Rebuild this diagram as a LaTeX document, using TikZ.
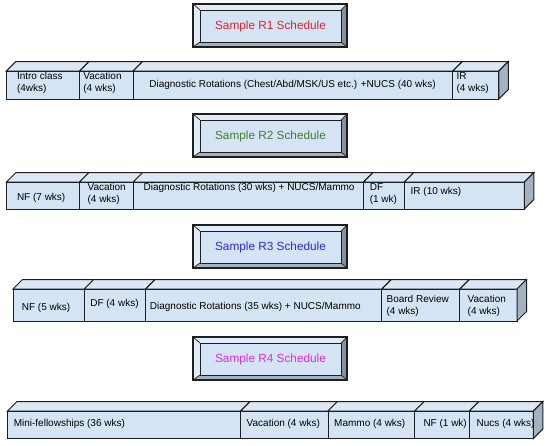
\documentclass[tikz,border=0pt]{standalone}
\usepackage{fontspec}
\setmainfont{Liberation Sans}
\definecolor{facecol}{HTML}{D4E4F4}
\definecolor{topcol}{HTML}{DCE8F5}
\definecolor{sidecol}{HTML}{A2B2C2}
\definecolor{bevlightcol}{HTML}{E2ECF8}
\definecolor{bevmidcol}{HTML}{A4B2C0}
\definecolor{bevdarkcol}{HTML}{8492A0}
\definecolor{edgecol}{HTML}{1E1E1E}
\definecolor{rone}{HTML}{E2202C}
\definecolor{rtwo}{HTML}{3F7F2F}
\definecolor{rthree}{HTML}{2A2AE6}
\definecolor{rfour}{HTML}{E22AE2}
\def\cdx{9.5}
\def\cdy{9.5}
\tikzset{
  frontface/.style={fill=facecol,draw=edgecol,line width=1pt,line join=miter},
  topface/.style={fill=topcol,draw=edgecol,line width=1pt,line join=miter},
  sideface/.style={fill=sidecol,draw=edgecol,line width=1pt,line join=miter},
  bevlight/.style={fill=bevlightcol},
  bevmid/.style={fill=bevmidcol},
  bevdark/.style={fill=bevdarkcol},
  titletext/.style={inner sep=0pt,font=\fontsize{11.8}{14}\selectfont},
  segtext/.style={inner sep=0pt,anchor=west,align=left,font=\fontsize{10}{12}\selectfont},
  segtextc/.style={inner sep=0pt,anchor=center,font=\fontsize{10}{12}\selectfont}
}
% #1 x0, #2 x1, #3 y top (front), #4 y bottom
\newcommand\segbox[4]{%
  \filldraw[topface] (#1,-#3) -- (#2,-#3) -- (#2+\cdx,-#3+\cdy) -- (#1+\cdx,-#3+\cdy) -- cycle;
  \filldraw[frontface] (#1,-#3) rectangle (#2,-#4);}
\newcommand\segside[3]{%
  \filldraw[sideface] (#1,-#2) -- (#1+\cdx,-#2+\cdy) -- (#1+\cdx,-#3+\cdy) -- (#1,-#3) -- cycle;}
% #1 name, #2 y top, #3 colour, #4 text
\newcommand\titlebox[4]{%
  \begin{scope}[shift={(0,-#2)}]
    \fill[bevlight] (193,0) -- (347,0) -- (341,-6) -- (200,-6) -- cycle;
    \fill[bevlight] (193,0) -- (200,-6) -- (200,-38) -- (193,-43) -- cycle;
    \fill[bevdark] (347,0) -- (347,-43) -- (341,-38) -- (341,-6) -- cycle;
    \fill[bevmid] (193,-43) -- (347,-43) -- (341,-38) -- (200,-38) -- cycle;
    \filldraw[fill=facecol,draw=edgecol,line width=0.7pt] (200,-6) rectangle (341,-38);
    \draw[edgecol,line width=0.7pt] (193,0) -- (200,-6) (347,0) -- (341,-6)
      (347,-43) -- (341,-38) (193,-43) -- (200,-38);
    \draw[edgecol,line width=1.1pt] (193,0) rectangle (347,-43);
    \node[titletext,text=#3] (#1) at (270.5,-22.5) {#4};
  \end{scope}}
\begin{document}
\begin{tikzpicture}[x=1pt,y=1pt]
\useasboundingbox (0,0) rectangle (548,-445);
\fill[white] (0,0) rectangle (548,-445);
% ---------- R1 ----------
\titlebox{t1}{4}{rone}{Sample R1 Schedule}
\segbox{6.3}{79.7}{71}{99}
\segbox{79.7}{133.2}{71}{99}
\segbox{133.2}{452.8}{71}{99}
\segbox{452.8}{498.8}{71}{99}
\segside{498.8}{71}{99}
\node[segtext] (a1) at (16.8,-83.3) {Intro class\\(4wks)};
\node[segtext] (a2) at (83.2,-83.3) {Vacation\\(4 wks)};
\node[segtextc] (a3) at (292.5,-84.7) {Diagnostic Rotations (Chest/Abd/MSK/US etc.) +NUCS (40 wks)};
\node[segtext] (a4) at (456.3,-83.3) {IR\\(4 wks)};
% ---------- R2 ----------
\titlebox{t2}{114}{rtwo}{Sample R2 Schedule}
\segbox{6.5}{79.5}{182}{209}
\segbox{79.5}{133.2}{182}{209}
\segbox{133.2}{363.6}{182}{209}
\segbox{363.6}{404.3}{182}{209}
\segbox{404.3}{524.3}{182}{209}
\segside{524.3}{182}{209}
\node[segtext] (b1) at (16.8,-198.3) {NF (7 wks)};
\node[segtext] (b2) at (87.4,-194.2) {Vacation\\(4 wks)};
\node[segtext] (b3) at (143.4,-188.3) {Diagnostic Rotations (30 wks) + NUCS/Mammo};
\node[segtext] (b4) at (369.6,-194.2) {DF\\(1 wk)};
\node[segtext] (b5) at (410.5,-191.7) {IR (10 wks)};
% ---------- R3 ----------
\titlebox{t3}{225}{rthree}{Sample R3 Schedule}
\segbox{13}{84.2}{289}{321}
\segbox{84.2}{145.6}{289}{321}
\segbox{145.6}{381.8}{289}{321}
\segbox{381.8}{459.8}{289}{321}
\segbox{459.8}{517}{289}{321}
\segside{517}{289}{321}
\node[segtext] (c1) at (21.7,-307.5) {NF (5 wks)};
\node[segtext] (c2) at (90.1,-304.2) {DF (4 wks)};
\node[segtext] (c3) at (149.7,-307.3) {Diagnostic Rotations (35 wks) + NUCS/Mammo};
\node[segtext] (c4) at (386.4,-306) {Board Review\\(4 wks)};
\node[segtext] (c5) at (467.5,-306) {Vacation\\(4 wks)};
% ---------- R4 ----------
\titlebox{t4}{337}{rfour}{Sample R4 Schedule}
\segbox{7.5}{240.6}{411}{438.5}
\segbox{240.6}{328}{411}{438.5}
\segbox{328}{414.7}{411}{438.5}
\segbox{414.7}{469.3}{411}{438.5}
\segbox{469.3}{533.3}{411}{438.5}
\segside{533.3}{411}{438.5}
\node[segtext] (d1) at (13.6,-424.3) {Mini-fellowships (36 wks)};
\node[segtext] (d2) at (246.5,-424.3) {Vacation (4 wks)};
\node[segtext] (d3) at (334,-424.3) {Mammo (4 wks)};
\node[segtext] (d4) at (423.3,-424.3) {NF (1 wk)};
\node[segtext] (d5) at (476.5,-424.3) {Nucs (4 wks)};
\end{tikzpicture}
\end{document}
